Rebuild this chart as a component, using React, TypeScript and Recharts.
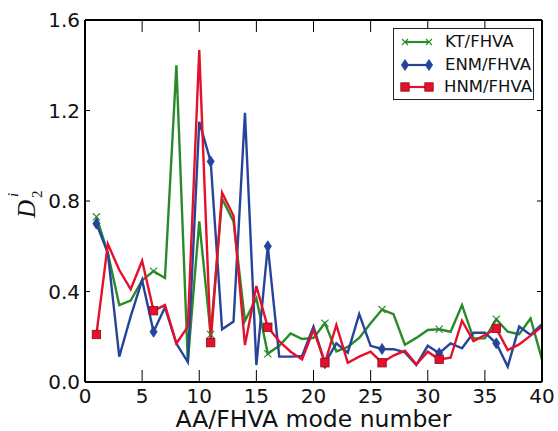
import React from 'react';
import { LineChart, Line, XAxis, YAxis, Legend } from 'recharts';

const modeNumbers = [1, 2, 3, 4, 5, 6, 7, 8, 9, 10, 11, 12, 13, 14, 15, 16, 17, 18, 19, 20, 21, 22, 23, 24, 25, 26, 27, 28, 29, 30, 31, 32, 33, 34, 35, 36, 37, 38, 39, 40];

const ktFhva = [0.73, 0.57, 0.34, 0.36, 0.45, 0.49, 0.46, 1.40, 0.09, 0.71, 0.21, 0.81, 0.71, 0.27, 0.37, 0.125, 0.16, 0.215, 0.19, 0.195, 0.26, 0.135, 0.155, 0.195, 0.26, 0.32, 0.30, 0.165, 0.195, 0.23, 0.233, 0.222, 0.34, 0.193, 0.193, 0.277, 0.222, 0.211, 0.281, 0.10];

const enmFhva = [0.70, 0.57, 0.112, 0.29, 0.45, 0.222, 0.33, 0.17, 0.088, 1.15, 0.975, 0.233, 0.267, 1.19, 0.075, 0.60, 0.112, 0.112, 0.115, 0.245, 0.083, 0.171, 0.13, 0.30, 0.16, 0.146, 0.145, 0.131, 0.075, 0.16, 0.127, 0.171, 0.149, 0.218, 0.218, 0.171, 0.068, 0.245, 0.208, 0.256];

const hnmFhva = [0.21, 0.61, 0.495, 0.41, 0.536, 0.315, 0.34, 0.17, 0.245, 1.467, 0.174, 0.837, 0.735, 0.163, 0.424, 0.242, 0.18, 0.134, 0.10, 0.23, 0.085, 0.252, 0.085, 0.112, 0.134, 0.085, 0.117, 0.138, 0.078, 0.134, 0.10, 0.107, 0.271, 0.181, 0.208, 0.237, 0.141, 0.166, 0.205, 0.245];

const xTicks = [0, 5, 10, 15, 20, 25, 30, 35, 40];
const yTicks = [0, 0.4, 0.8, 1.2, 1.6];
const seriesNames = ['KT/FHVA', 'ENM/FHVA', 'HNM/FHVA'];
const xLabel = 'AA/FHVA mode number';

const GREEN = '#2a8a2a';
const BLUE = '#25449a';
const RED = '#e5102c';
const RED_EDGE = '#8a0a18';

const data = modeNumbers.map((m, i) => ({ mode: m, kt: ktFhva[i], enm: enmFhva[i], hnm: hnmFhva[i] }));

const FONT = '"DejaVu Sans", sans-serif';

const xMark = (cx: number, cy: number, s: number, color: string, key?: string) => (
  <path key={key} d={`M${cx - s},${cy - s}L${cx + s},${cy + s}M${cx - s},${cy + s}L${cx + s},${cy - s}`} stroke={color} strokeWidth={1.1} fill="none" />
);
const diamondMark = (cx: number, cy: number, color: string, key?: string) => (
  <path key={key} d={`M${cx},${cy - 5.5}L${cx + 3.6},${cy}L${cx},${cy + 5.5}L${cx - 3.6},${cy}Z`} fill={color} stroke={color} strokeWidth={0.8} />
);
const squareMark = (cx: number, cy: number, key?: string) => (
  <rect key={key} x={cx - 4.2} y={cy - 4.2} width={8.4} height={8.4} fill={RED} stroke={RED_EDGE} strokeWidth={0.8} />
);

const KtDot = (p: any) => {
  if (p.index % 5 !== 0) return <g key={`kt${p.index}`} />;
  return xMark(p.cx, p.cy, 3.6, GREEN, `kt${p.index}`);
};
const EnmDot = (p: any) => {
  if (p.index % 5 !== 0) return <g key={`en${p.index}`} />;
  return diamondMark(p.cx, p.cy, BLUE, `en${p.index}`);
};
const HnmDot = (p: any) => {
  if (p.index % 5 !== 0) return <g key={`hn${p.index}`} />;
  return squareMark(p.cx, p.cy, `hn${p.index}`);
};

const BottomTick = (p: any) => (
  <g>
    <line x1={p.x} y1={p.y} x2={p.x} y2={p.y - 12} stroke="#000" strokeWidth={1} />
    <text x={p.x} y={p.y + 6} dy="0.74em" textAnchor="middle" fontSize={20} fontFamily={FONT} fill="#111">{p.payload.value}</text>
  </g>
);
const TopTick = (p: any) => (
  <line x1={p.x} y1={p.y} x2={p.x} y2={p.y + 12} stroke="#000" strokeWidth={1} />
);
const LeftTick = (p: any) => (
  <g>
    <line x1={p.x} y1={p.y} x2={p.x + 5} y2={p.y} stroke="#000" strokeWidth={1} />
    <text x={p.x - 5} y={p.y} dy="0.36em" textAnchor="end" fontSize={20} fontFamily={FONT} fill="#111">{Number(p.payload.value).toFixed(1)}</text>
  </g>
);
const RightTick = (p: any) => (
  <line x1={p.x} y1={p.y} x2={p.x - 5} y2={p.y} stroke="#000" strokeWidth={1} />
);

const YLabel = (p: any) => {
  const vb = p.viewBox || { x: 0, y: 20, width: 85, height: 362 };
  const cx = vb.x + 35;
  const cy = vb.y + vb.height / 2 + 2;
  return (
    <g transform={`translate(${cx},${cy}) rotate(-90)`}>
      <text x={-15} y={0} fontSize={25} fontStyle="italic" fontFamily='"Liberation Serif", serif' fill="#111">D</text>
      <text x={5} y={7} fontSize={15} fontFamily='"Liberation Serif", serif' fill="#111">2</text>
      <text x={6} y={-17} fontSize={15} fontStyle="italic" fontFamily='"Liberation Serif", serif' fill="#111">i</text>
    </g>
  );
};

const XLabel = (p: any) => {
  const vb = p.viewBox || { x: 85, y: 382, width: 457, height: 49 };
  return (
    <text x={vb.x + vb.width / 2} y={vb.y + 44.5} textAnchor="middle" fontSize={23.5} fontFamily={FONT} fill="#111">{xLabel}</text>
  );
};

const legendIcons = [
  (a: number, b: number, y: number) => [xMark(a, y, 3, GREEN, 'a'), xMark(b, y, 3, GREEN, 'b')],
  (a: number, b: number, y: number) => [diamondMark(a, y, BLUE, 'a'), diamondMark(b, y, BLUE, 'b')],
  (a: number, b: number, y: number) => [squareMark(a, y, 'a'), squareMark(b, y, 'b')],
];
const legendColors = [GREEN, BLUE, RED];

const LegendBox = () => (
  <div style={{ width: 139, height: 70, border: '1.3px solid #222', background: '#fff', boxSizing: 'content-box', fontFamily: FONT }}>
    {seriesNames.map((name, i) => (
      <div key={name} style={{ position: 'absolute', left: 0, top: 3 + i * 22.5, height: 22, width: 139, display: 'flex', alignItems: 'center' }}>
        <svg width={50} height={22} style={{ display: 'block' }}>
          <line x1={12} y1={11} x2={36} y2={11} stroke={legendColors[i]} strokeWidth={2.2} />
          {legendIcons[i](12, 36, 11)}
        </svg>
        <span style={{ fontSize: 16.5, color: '#111', marginLeft: 2, lineHeight: '22px' }}>{name}</span>
      </div>
    ))}
  </div>
);

export default function App() {
  return (
    <div style={{ position: 'absolute', left: 0, top: 0, width: 558, height: 431, background: '#fff' }}>
      <LineChart width={558} height={431} data={data} margin={{ top: 19, right: 15, bottom: 0, left: 0 }}>
        <XAxis xAxisId="b" dataKey="mode" type="number" domain={[0, 40]} ticks={xTicks} height={49}
          axisLine={{ stroke: '#000', strokeWidth: 2 }} tickLine={false} tickSize={0} tickMargin={0}
          tick={<BottomTick />} interval={0} label={<XLabel />} />
        <XAxis xAxisId="t" orientation="top" dataKey="mode" type="number" domain={[0, 40]} ticks={xTicks} height={1}
          axisLine={{ stroke: '#000', strokeWidth: 2 }} tickLine={false} tickSize={0} tickMargin={0}
          tick={<TopTick />} interval={0} />
        <YAxis yAxisId="l" type="number" domain={[0, 1.6]} ticks={yTicks} width={85} allowDataOverflow
          axisLine={{ stroke: '#000', strokeWidth: 2 }} tickLine={false} tickSize={0} tickMargin={0}
          tick={<LeftTick />} interval={0} label={<YLabel />} />
        <YAxis yAxisId="r" orientation="right" type="number" domain={[0, 1.6]} ticks={yTicks} width={1} allowDataOverflow
          axisLine={{ stroke: '#000', strokeWidth: 2 }} tickLine={false} tickSize={0} tickMargin={0}
          tick={<RightTick />} interval={0} />
        <Line xAxisId="b" yAxisId="l" dataKey="kt" name={seriesNames[0]} stroke={GREEN} strokeWidth={2.4} dot={KtDot} activeDot={false} isAnimationActive={false} />
        <Line xAxisId="b" yAxisId="l" dataKey="enm" name={seriesNames[1]} stroke={BLUE} strokeWidth={2.4} dot={EnmDot} activeDot={false} isAnimationActive={false} />
        <Line xAxisId="b" yAxisId="l" dataKey="hnm" name={seriesNames[2]} stroke={RED} strokeWidth={2.4} dot={HnmDot} activeDot={false} isAnimationActive={false} />
        <Legend layout="vertical" align="center" verticalAlign="middle" content={<LegendBox />}
          wrapperStyle={{ position: 'absolute', left: 393, top: 28, width: 142, height: 73 }} />
      </LineChart>
    </div>
  );
}
